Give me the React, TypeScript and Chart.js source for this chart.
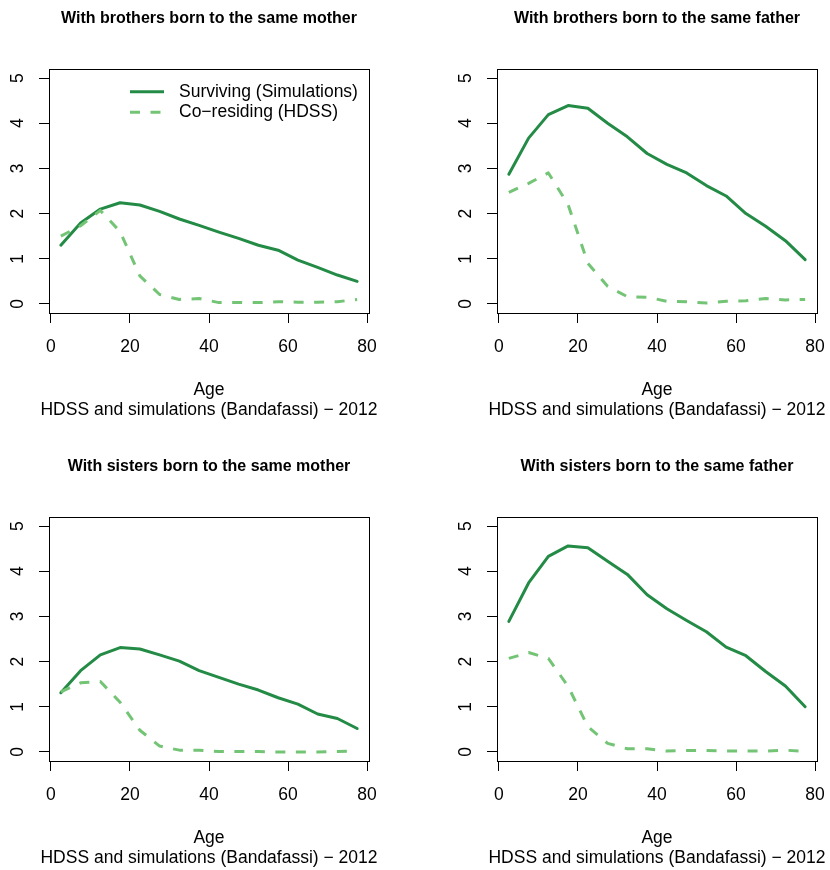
import { useEffect, useRef } from "react";
import { Chart, registerables } from "chart.js";

Chart.register(...registerables);

// Age-group midpoints (5-year groups)
const AGES = [2.5, 7.5, 12.5, 17.5, 22.5, 27.5, 32.5, 37.5, 42.5, 47.5, 52.5, 57.5, 62.5, 67.5, 72.5, 77.5];

const X_TICKS = [0, 20, 40, 60, 80];
const Y_TICKS = [0, 1, 2, 3, 4, 5];

const SERIES_LABELS = ["Surviving (Simulations)", "Co\u2212residing (HDSS)"];
const X_TITLE = "Age";
const SUBTITLE = "HDSS and simulations (Bandafassi) \u2212 2012";

// Brothers, same mother
const brothersMotherSurviving = [1.30, 1.79, 2.10, 2.24, 2.19, 2.05, 1.88, 1.74, 1.59, 1.45, 1.30, 1.19, 0.97, 0.81, 0.64, 0.50];
const brothersMotherCoresiding = [1.50, 1.73, 2.07, 1.60, 0.62, 0.21, 0.10, 0.12, 0.03, 0.03, 0.03, 0.05, 0.04, 0.04, 0.05, 0.10];

// Brothers, same father
const brothersFatherSurviving = [2.87, 3.67, 4.19, 4.39, 4.33, 4.00, 3.70, 3.33, 3.09, 2.90, 2.62, 2.39, 2.00, 1.72, 1.40, 0.98];
const brothersFatherCoresiding = [2.47, 2.67, 2.90, 2.20, 0.90, 0.39, 0.16, 0.15, 0.06, 0.05, 0.02, 0.06, 0.07, 0.12, 0.09, 0.10];

// Sisters, same mother
const sistersMotherSurviving = [1.31, 1.80, 2.15, 2.31, 2.28, 2.15, 2.01, 1.80, 1.65, 1.50, 1.37, 1.20, 1.06, 0.84, 0.74, 0.52];
const sistersMotherCoresiding = [1.33, 1.53, 1.56, 1.10, 0.48, 0.13, 0.04, 0.04, 0.01, 0.01, 0.01, 0.00, 0.00, 0.00, 0.01, 0.02];

// Sisters, same father
const sistersFatherSurviving = [2.89, 3.74, 4.33, 4.56, 4.52, 4.22, 3.93, 3.48, 3.17, 2.91, 2.66, 2.32, 2.13, 1.78, 1.46, 1.00];
const sistersFatherCoresiding = [2.07, 2.20, 2.07, 1.45, 0.56, 0.19, 0.07, 0.07, 0.02, 0.03, 0.03, 0.02, 0.02, 0.02, 0.04, 0.01];

const TITLES = [
  "With brothers born to the same mother",
  "With brothers born to the same father",
  "With sisters born to the same mother",
  "With sisters born to the same father",
];

const FONT = "'Liberation Sans', Arial, Helvetica, sans-serif";
const SOLID_COLOR = "#238b45";
const DASHED_COLOR = "#74c476";

// Each panel is its own canvas; the plot box sits at the same offset inside each.
const CANVAS_W = 418;
const CANVAS_H = 422;

const panels = [
  { title: TITLES[0], surviving: brothersMotherSurviving, coresiding: brothersMotherCoresiding, key: true, left: 0, top: 0 },
  { title: TITLES[1], surviving: brothersFatherSurviving, coresiding: brothersFatherCoresiding, key: false, left: 448, top: 0 },
  { title: TITLES[2], surviving: sistersMotherSurviving, coresiding: sistersMotherCoresiding, key: false, left: 0, top: 448 },
  { title: TITLES[3], surviving: sistersFatherSurviving, coresiding: sistersFatherCoresiding, key: false, left: 448, top: 448 },
];

// Full box around the plotting region
const frame = {
  id: "frame",
  afterDatasetsDraw(chart: any) {
    const { ctx, chartArea } = chart;
    const a = (v: number) => Math.round(v - 0.5) + 0.5;
    ctx.save();
    ctx.strokeStyle = "#000";
    ctx.lineWidth = 1;
    ctx.setLineDash([]);
    const l = a(chartArea.left), t = a(chartArea.top), r = a(chartArea.right), b = a(chartArea.bottom);
    ctx.strokeRect(l, t, r - l, b - t);
    ctx.restore();
  },
};

// Line-sample key placed inside the plotting region
const seriesKey = {
  id: "seriesKey",
  afterDatasetsDraw(chart: any, _args: any, opts: any) {
    if (!opts || !opts.display) return;
    const { ctx, chartArea } = chart;
    const x0 = chartArea.left + opts.offsetX;
    const y0 = chartArea.top + opts.offsetY;
    chart.data.datasets.forEach((ds: any, i: number) => {
      const y = y0 + i * opts.rowHeight;
      ctx.save();
      ctx.strokeStyle = ds.borderColor;
      ctx.lineWidth = ds.borderWidth;
      ctx.lineCap = "butt";
      ctx.setLineDash(ds.borderDash || []);
      ctx.beginPath();
      ctx.moveTo(x0, y);
      ctx.lineTo(x0 + opts.sampleWidth, y);
      ctx.stroke();
      ctx.setLineDash([]);
      ctx.fillStyle = "#000";
      ctx.font = `${opts.fontSize}px ${FONT}`;
      ctx.textAlign = "left";
      ctx.textBaseline = "middle";
      ctx.fillText(ds.label, x0 + opts.sampleWidth + opts.gap, y);
      ctx.restore();
    });
  },
};

function Panel({ p }: { p: (typeof panels)[number] }) {
  const ref = useRef<HTMLCanvasElement | null>(null);

  useEffect(() => {
    if (!ref.current) return;
    const chart = new Chart(ref.current, {
      type: "line",
      data: {
        datasets: [
          {
            label: SERIES_LABELS[0],
            data: p.surviving.map((v, i) => ({ x: AGES[i], y: v })),
            borderColor: SOLID_COLOR,
            borderWidth: 3,
            borderCapStyle: "round",
            borderJoinStyle: "round",
            pointRadius: 0,
            tension: 0,
            fill: false,
            order: 1,
          },
          {
            label: SERIES_LABELS[1],
            data: p.coresiding.map((v, i) => ({ x: AGES[i], y: v })),
            borderColor: DASHED_COLOR,
            borderWidth: 3,
            borderDash: [10, 10.5],
            borderCapStyle: "butt",
            borderJoinStyle: "round",
            pointRadius: 0,
            tension: 0,
            fill: false,
            order: 0,
          },
        ],
      },
      options: {
        animation: false,
        responsive: false,
        devicePixelRatio: 1,
        events: [],
        layout: { padding: 0 },
        plugins: {
          legend: { display: false },
          tooltip: { enabled: false },
          title: {
            display: true,
            text: p.title,
            fullSize: false,
            color: "#000",
            font: { family: FONT, size: 16, weight: "bold", lineHeight: 1.2 },
            padding: { top: 9.4, bottom: 40.4 },
          },
          subtitle: {
            display: true,
            position: "bottom",
            fullSize: true,
            text: SUBTITLE,
            color: "#000",
            font: { family: FONT, size: 17.5, weight: "normal", lineHeight: 1 },
            padding: { top: 0, bottom: 3.5 },
          },
          seriesKey: {
            display: p.key,
            offsetX: 81,
            offsetY: 22.7,
            rowHeight: 20.6,
            sampleWidth: 34,
            gap: 15,
            fontSize: 17.5,
          },
        } as any,
        scales: {
          x: {
            type: "linear",
            position: "bottom",
            min: -0.5,
            max: 80.5,
            afterBuildTicks: (s: any) => {
              s.ticks = X_TICKS.map((v) => ({ value: v }));
            },
            afterFit: (s: any) => {
              s.height = 88;
              s.paddingLeft = 0;
              s.paddingRight = 0;
            },
            grid: { drawOnChartArea: false, drawTicks: true, tickLength: 10, color: "#000", lineWidth: 1 },
            border: { display: true, color: "#000", width: 1 },
            ticks: {
              color: "#000",
              font: { family: FONT, size: 17.5, lineHeight: 1.2 },
              padding: 13.3,
              autoSkip: false,
              maxRotation: 0,
              minRotation: 0,
              callback: (v: any) => String(v),
            },
            title: {
              display: true,
              text: X_TITLE,
              color: "#000",
              font: { family: FONT, size: 17.5, lineHeight: 1 },
              padding: { top: 0, bottom: 2.25 },
            },
          },
          y: {
            type: "linear",
            position: "left",
            min: -0.2,
            max: 5.2,
            afterBuildTicks: (s: any) => {
              s.ticks = Y_TICKS.map((v) => ({ value: v }));
            },
            afterFit: (s: any) => {
              s.width = 49;
              s.paddingTop = 0;
              s.paddingBottom = 0;
            },
            grid: { drawOnChartArea: false, drawTicks: true, tickLength: 10, color: "#000", lineWidth: 1 },
            border: { display: true, color: "#000", width: 1 },
            ticks: {
              color: "#000",
              font: { family: FONT, size: 17.5, lineHeight: 1.2 },
              padding: 16.3,
              minRotation: 90,
              maxRotation: 90,
              crossAlign: "center",
              autoSkip: false,
              callback: (v: any) => String(v),
            },
          },
          // Unlabelled right margin so the full-width subtitle is centred under the plot box
          margin: {
            type: "linear",
            position: "right",
            grid: { display: false, drawTicks: false },
            border: { display: false },
            ticks: { display: false },
            afterFit: (s: any) => {
              s.width = 49;
              s.paddingTop = 0;
              s.paddingBottom = 0;
            },
          },
        },
      } as any,
      plugins: [frame, seriesKey],
    });
    return () => chart.destroy();
  }, [p]);

  return (
    <canvas
      ref={ref}
      width={CANVAS_W}
      height={CANVAS_H}
      style={{ position: "absolute", left: p.left, top: p.top, width: CANVAS_W, height: CANVAS_H }}
    />
  );
}

export default function App() {
  return (
    <div
      style={{
        position: "absolute",
        left: 0,
        top: 0,
        width: 830,
        height: 870,
        background: "#fff",
        overflow: "hidden",
      }}
    >
      {panels.map((p, i) => (
        <Panel key={i} p={p} />
      ))}
    </div>
  );
}
